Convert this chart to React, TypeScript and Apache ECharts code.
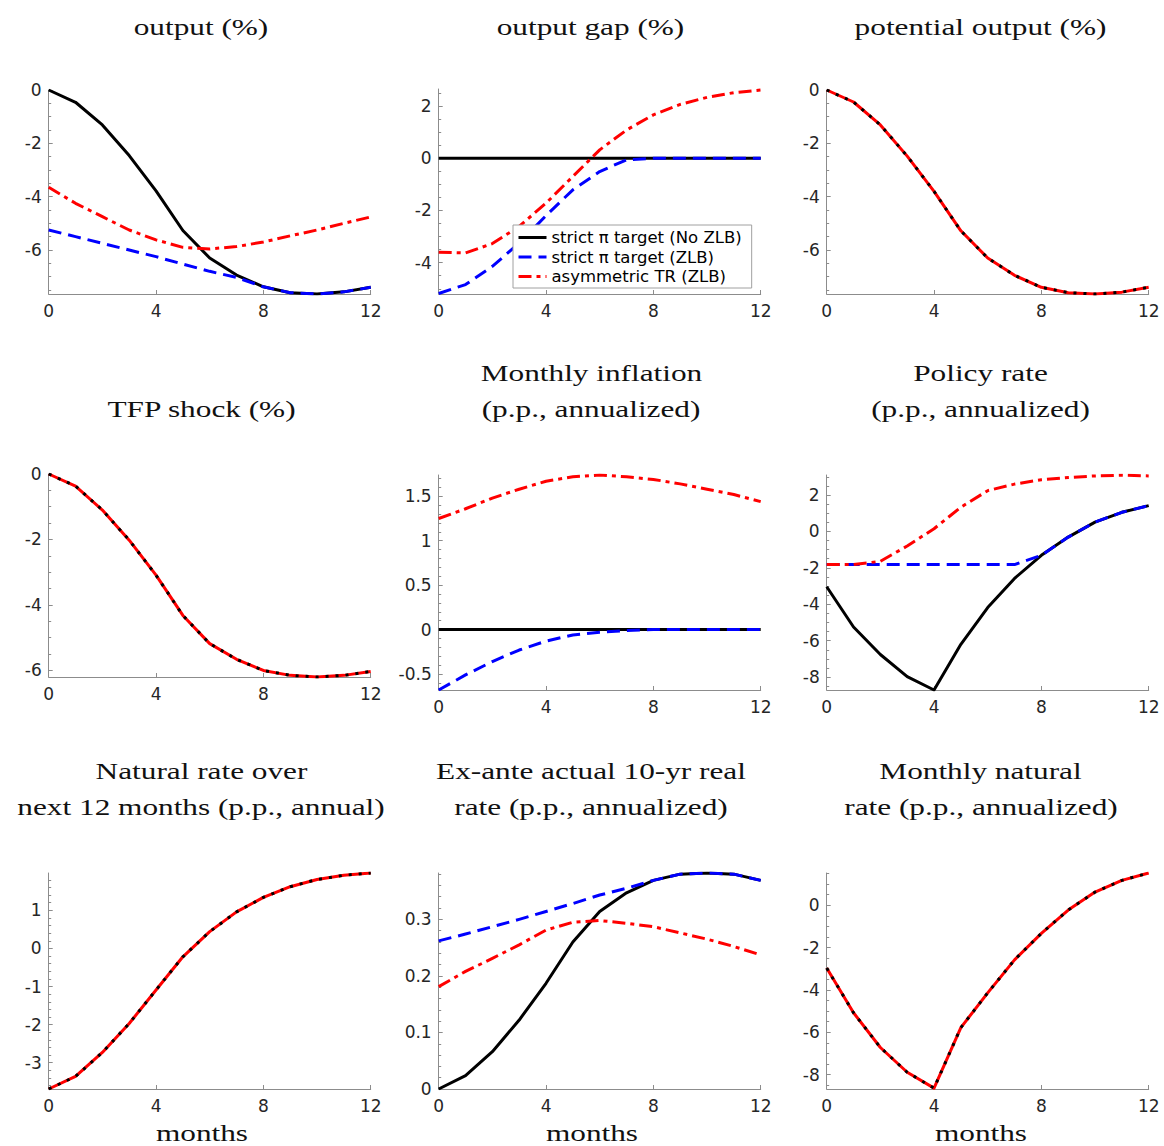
import React, { useEffect, useRef } from "react";
import * as echarts from "echarts";

// ---------- data ----------
const months = [0, 1, 2, 3, 4, 5, 6, 7, 8, 9, 10, 11, 12];
const seriesNames = ["strict π target (No ZLB)", "strict π target (ZLB)", "asymmetric TR (ZLB)"];

const outputNoZLB = [0, -0.46, -1.31, -2.46, -3.78, -5.27, -6.3, -6.94, -7.38, -7.6, -7.65, -7.57, -7.4];
const outputZLB = [-5.25, -5.5, -5.75, -6.0, -6.25, -6.53, -6.8, -7.03, -7.38, -7.6, -7.65, -7.57, -7.4];
const outputAsym = [-3.65, -4.25, -4.75, -5.25, -5.62, -5.9, -5.96, -5.87, -5.7, -5.47, -5.25, -5.0, -4.76];

const gapNoZLB = [0, 0, 0, 0, 0, 0, 0, 0, 0, 0, 0, 0, 0];
const gapZLB = [-5.18, -4.84, -4.14, -3.25, -2.2, -1.21, -0.51, -0.06, 0, 0, 0, 0, 0];
const gapAsym = [-3.6, -3.63, -3.27, -2.61, -1.72, -0.7, 0.32, 1.08, 1.66, 2.06, 2.33, 2.51, 2.61];

const potentialOutput = [0, -0.45, -1.31, -2.48, -3.8, -5.28, -6.3, -6.95, -7.4, -7.6, -7.65, -7.58, -7.4];

const tfpShock = [0, -0.37, -1.1, -2.02, -3.09, -4.32, -5.18, -5.66, -6.0, -6.15, -6.2, -6.15, -6.03];

const inflNoZLB = [0, 0, 0, 0, 0, 0, 0, 0, 0, 0, 0, 0, 0];
const inflZLB = [-0.68, -0.51, -0.36, -0.23, -0.13, -0.06, -0.03, -0.01, 0, 0, 0, 0, 0];
const inflAsym = [1.25, 1.36, 1.48, 1.58, 1.67, 1.72, 1.74, 1.72, 1.69, 1.64, 1.58, 1.52, 1.44];

const policyNoZLB = [-3.04, -5.25, -6.76, -7.98, -8.71, -6.2, -4.18, -2.58, -1.31, -0.31, 0.51, 1.05, 1.42];
const policyZLB = [-1.82, -1.82, -1.82, -1.82, -1.82, -1.82, -1.82, -1.82, -1.31, -0.31, 0.51, 1.05, 1.42];
const policyAsym = [-1.82, -1.82, -1.64, -0.8, 0.15, 1.33, 2.24, 2.6, 2.84, 2.96, 3.05, 3.09, 3.05];

const natRate12m = [-3.69, -3.36, -2.73, -1.97, -1.09, -0.22, 0.44, 0.96, 1.34, 1.62, 1.81, 1.92, 1.98];

const realNoZLB = [0, 0.0235, 0.066, 0.122, 0.187, 0.26, 0.314, 0.347, 0.369, 0.38, 0.382, 0.38, 0.369];
const realZLB = [0.262, 0.274, 0.287, 0.3, 0.314, 0.328, 0.343, 0.355, 0.369, 0.38, 0.382, 0.38, 0.369];
const realAsym = [0.181, 0.208, 0.231, 0.255, 0.281, 0.295, 0.298, 0.293, 0.287, 0.276, 0.265, 0.252, 0.237];

const natRateMonthly = [-2.97, -5.08, -6.72, -7.89, -8.64, -5.78, -4.14, -2.58, -1.33, -0.23, 0.62, 1.17, 1.52];

// tick labels
const xTicks = [0, 4, 8, 12];
const ticksOutput = [0, -2, -4, -6];
const ticksGap = [2, 0, -2, -4];
const ticksTfp = [0, -2, -4, -6];
const ticksInfl = [1.5, 1, 0.5, 0, -0.5];
const ticksPolicy = [2, 0, -2, -4, -6, -8];
const ticksNat12 = [1, 0, -1, -2, -3];
const ticksReal = [0.3, 0.2, 0.1, 0];
const ticksNatMonthly = [0, -2, -4, -6, -8];

// ---------- styling ----------
const BLACK = "#000000";
const BLUE = "#0000ff";
const RED = "#ff0000";
const AXIS = "#8c8c8c";
const LABEL = "#262626";
const SANS = "'DejaVu Sans', 'Liberation Sans', Arial, sans-serif";
const SERIF = "'Liberation Serif', 'Times New Roman', serif";
const DASH_BLUE = [13, 7];
const DASH_RED = [13, 5, 4, 5];
const DOT_BLACK = [3, 7];

type Panel = {
  left: number;
  top: number;
  width: number;
  height: number;
  yMin: number;
  yMax: number;
  ticks: number[];
  minor: number;
  lines: { name: string; data: number[]; color: string; dash: any }[];
};

const W = 322;
const COLS = [48.7, 438.7, 826.7];

const panels: Panel[] = [
  {
    left: COLS[0], top: 90, width: W, height: 204, yMin: -7.65, yMax: 0, ticks: ticksOutput, minor: 0.5,
    lines: [
      { name: seriesNames[0], data: outputNoZLB, color: BLACK, dash: "solid" },
      { name: seriesNames[1], data: outputZLB, color: BLUE, dash: DASH_BLUE },
      { name: seriesNames[2], data: outputAsym, color: RED, dash: DASH_RED },
    ],
  },
  {
    left: COLS[1], top: 89, width: W, height: 205, yMin: -5.2, yMax: 2.65, ticks: ticksGap, minor: 0.5,
    lines: [
      { name: seriesNames[0], data: gapNoZLB, color: BLACK, dash: "solid" },
      { name: seriesNames[1], data: gapZLB, color: BLUE, dash: DASH_BLUE },
      { name: seriesNames[2], data: gapAsym, color: RED, dash: DASH_RED },
    ],
  },
  {
    left: COLS[2], top: 90, width: W, height: 204, yMin: -7.65, yMax: 0, ticks: ticksOutput, minor: 0.5,
    lines: [
      { name: "potential", data: potentialOutput, color: RED, dash: "solid" },
      { name: "potential dots", data: potentialOutput, color: BLACK, dash: DOT_BLACK },
    ],
  },
  {
    left: COLS[0], top: 474, width: W, height: 203, yMin: -6.2, yMax: 0, ticks: ticksTfp, minor: 0.5,
    lines: [
      { name: "tfp", data: tfpShock, color: RED, dash: "solid" },
      { name: "tfp dots", data: tfpShock, color: BLACK, dash: DOT_BLACK },
    ],
  },
  {
    left: COLS[1], top: 475, width: W, height: 215, yMin: -0.68, yMax: 1.74, ticks: ticksInfl, minor: 0.1,
    lines: [
      { name: seriesNames[0], data: inflNoZLB, color: BLACK, dash: "solid" },
      { name: seriesNames[1], data: inflZLB, color: BLUE, dash: DASH_BLUE },
      { name: seriesNames[2], data: inflAsym, color: RED, dash: DASH_RED },
    ],
  },
  {
    left: COLS[2], top: 475, width: W, height: 215, yMin: -8.71, yMax: 3.1, ticks: ticksPolicy, minor: 0.5,
    lines: [
      { name: seriesNames[0], data: policyNoZLB, color: BLACK, dash: "solid" },
      { name: seriesNames[1], data: policyZLB, color: BLUE, dash: DASH_BLUE },
      { name: seriesNames[2], data: policyAsym, color: RED, dash: DASH_RED },
    ],
  },
  {
    left: COLS[0], top: 873, width: W, height: 216, yMin: -3.69, yMax: 1.98, ticks: ticksNat12, minor: 0.2,
    lines: [
      { name: "nat12", data: natRate12m, color: RED, dash: "solid" },
      { name: "nat12 dots", data: natRate12m, color: BLACK, dash: DOT_BLACK },
    ],
  },
  {
    left: COLS[1], top: 873, width: W, height: 216, yMin: 0, yMax: 0.382, ticks: ticksReal, minor: 0.02,
    lines: [
      { name: seriesNames[0], data: realNoZLB, color: BLACK, dash: "solid" },
      { name: seriesNames[1], data: realZLB, color: BLUE, dash: DASH_BLUE },
      { name: seriesNames[2], data: realAsym, color: RED, dash: DASH_RED },
    ],
  },
  {
    left: COLS[2], top: 873, width: W, height: 216, yMin: -8.68, yMax: 1.52, ticks: ticksNatMonthly, minor: 0.5,
    lines: [
      { name: "natm", data: natRateMonthly, color: RED, dash: "solid" },
      { name: "natm dots", data: natRateMonthly, color: BLACK, dash: DOT_BLACK },
    ],
  },
];

const titles = [
  { text: "output (%)", x: 201, y: 27 },
  { text: "output gap (%)", x: 590.5, y: 27 },
  { text: "potential output (%)", x: 980.5, y: 27 },
  { text: "TFP shock (%)", x: 201.5, y: 409 },
  { text: "Monthly inflation", x: 591.5, y: 373 },
  { text: "(p.p., annualized)", x: 591, y: 409 },
  { text: "Policy rate", x: 980.5, y: 373 },
  { text: "(p.p., annualized)", x: 980.5, y: 409 },
  { text: "Natural rate over", x: 201.5, y: 771 },
  { text: "next 12 months (p.p., annual)", x: 201, y: 807 },
  { text: "Ex-ante actual 10-yr real", x: 591, y: 771 },
  { text: "rate (p.p., annualized)", x: 591, y: 807 },
  { text: "Monthly natural", x: 980.5, y: 771 },
  { text: "rate (p.p., annualized)", x: 981, y: 807 },
  { text: "months", x: 202, y: 1133 },
  { text: "months", x: 592, y: 1133 },
  { text: "months", x: 981, y: 1133 },
];

function minorTicks(min: number, max: number, step: number): number[] {
  const out: number[] = [];
  const start = Math.ceil(min / step - 1e-9);
  const end = Math.floor(max / step + 1e-9);
  for (let k = start; k <= end; k++) out.push(Math.round(k * step * 1e6) / 1e6);
  return out;
}

function buildOption() {
  const grid: any[] = [];
  const xAxis: any[] = [];
  const yAxis: any[] = [];
  const series: any[] = [];

  panels.forEach((p, i) => {
    grid.push({ left: p.left, top: p.top, width: p.width, height: p.height, containLabel: false });
    xAxis.push({
      gridIndex: i,
      type: "value",
      min: 0,
      max: 12,
      interval: 4,
      axisLine: { show: true, onZero: false, lineStyle: { color: AXIS, width: 1 } },
      axisTick: { show: true, inside: true, length: 4, customValues: xTicks, lineStyle: { color: AXIS } },
      axisLabel: { customValues: xTicks, color: LABEL, fontSize: 17, fontFamily: SANS, margin: 8 },
      splitLine: { show: false },
    });
    yAxis.push({
      gridIndex: i,
      type: "value",
      position: "left",
      min: p.yMin,
      max: p.yMax,
      axisLine: { show: true, onZero: false, lineStyle: { color: AXIS, width: 1 } },
      axisTick: { show: true, inside: true, length: 4, customValues: p.ticks, lineStyle: { color: AXIS } },
      axisLabel: { customValues: p.ticks, color: LABEL, fontSize: 17, fontFamily: SANS, margin: 7 },
      splitLine: { show: false },
    });
    yAxis.push({
      gridIndex: i,
      type: "value",
      position: "left",
      min: p.yMin,
      max: p.yMax,
      axisLine: { show: false },
      axisTick: {
        show: true,
        inside: true,
        length: 2.5,
        customValues: minorTicks(p.yMin, p.yMax, p.minor),
        lineStyle: { color: AXIS },
      },
      axisLabel: { show: false },
      splitLine: { show: false },
    });
    p.lines.forEach((l, j) => {
      series.push({
        type: "line",
        name: l.name,
        xAxisIndex: i,
        yAxisIndex: 2 * i,
        data: months.map((m, k) => [m, l.data[k]]),
        symbol: "none",
        showSymbol: false,
        silent: true,
        z: 2 + j,
        lineStyle: { color: l.color, width: 3, type: l.dash, cap: "butt", join: "round" },
        itemStyle: { color: l.color },
      });
    });
  });

  return {
    animation: false,
    backgroundColor: "#ffffff",
    grid,
    xAxis,
    yAxis,
    series,
    legend: {
      show: true,
      data: seriesNames,
      orient: "vertical",
      left: 513,
      top: 225,
      itemWidth: 28,
      itemHeight: 15,
      itemGap: 2.5,
      padding: [4, 10, 3, 4],
      backgroundColor: "#ffffff",
      borderColor: "#a0a0a0",
      borderWidth: 1,
      borderRadius: 0,
      selectedMode: false,
      z: 20,
      itemStyle: { opacity: 0 },
      lineStyle: { width: 3 },
      textStyle: { fontFamily: SANS, fontSize: 16.5, color: "#000000" },
    },
    graphic: titles.map((t) => ({
      type: "text",
      x: t.x,
      y: t.y,
      scaleX: 1.36,
      silent: true,
      style: {
        text: t.text,
        font: `23px ${SERIF}`,
        fill: "#111111",
        textAlign: "center",
        textVerticalAlign: "middle",
      },
    })),
  };
}

export default function App() {
  const ref = useRef<HTMLDivElement>(null);
  useEffect(() => {
    if (!ref.current) return;
    const chart = echarts.init(ref.current, undefined, { renderer: "svg" });
    chart.setOption(buildOption() as any);
    return () => chart.dispose();
  }, []);
  return (
    <div
      ref={ref}
      style={{ position: "fixed", left: 0, top: 0, width: 1164, height: 1146, background: "#fff" }}
    />
  );
}
